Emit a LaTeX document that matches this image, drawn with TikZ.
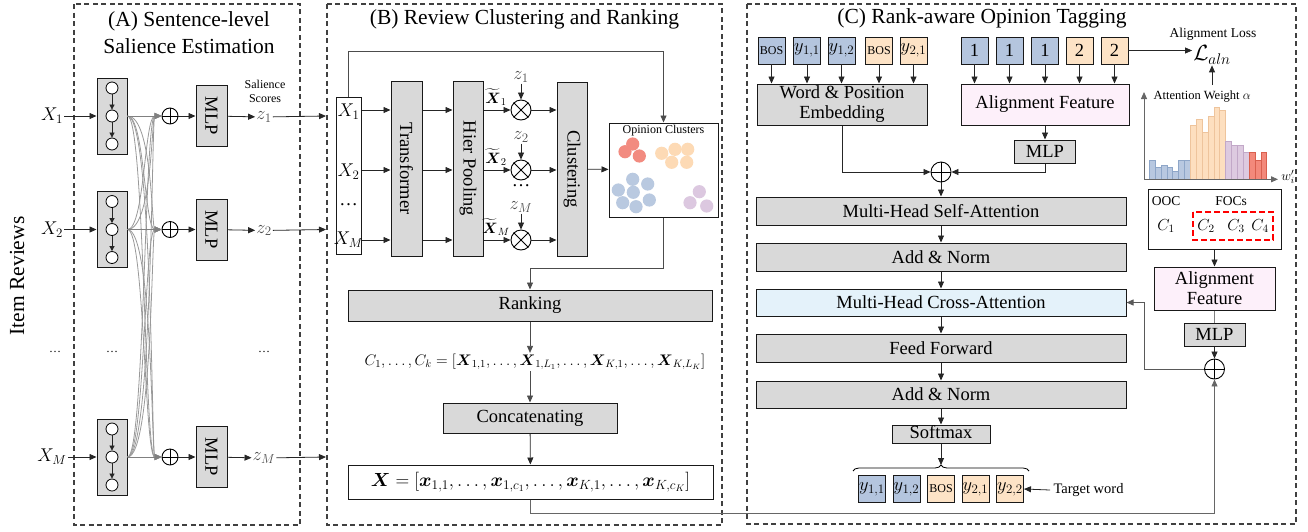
\documentclass[tikz,border=0pt]{standalone}
\usepackage{fix-cm}
\usepackage{amsmath}
\usepackage{fontspec}
\setmainfont{Liberation Serif}
\usetikzlibrary{arrows.meta,decorations.pathreplacing,calc}
\definecolor{boxgray}{HTML}{D9D9D9}
\definecolor{pinkf}{HTML}{FDF0FA}
\definecolor{bluef}{HTML}{E4F2FA}
\definecolor{tblue}{HTML}{B4C5DE}
\definecolor{torange}{HTML}{FDE3C6}
\definecolor{clred}{HTML}{F28B80}
\definecolor{clorange}{HTML}{FDDAB5}
\definecolor{clblue}{HTML}{B9C9E0}
\definecolor{clpurple}{HTML}{DCC8E0}
\definecolor{barbF}{HTML}{B8C8E0}\definecolor{barbE}{HTML}{8EA6C8}
\definecolor{baroF}{HTML}{FDDFBF}\definecolor{baroE}{HTML}{EEC49C}
\definecolor{barpF}{HTML}{DDCAE0}\definecolor{barpE}{HTML}{C2A8C8}
\definecolor{barrF}{HTML}{F3897B}\definecolor{barrE}{HTML}{D9604F}
\newcommand\fsT{\fontsize{21.5}{27}\selectfont}
\newcommand\fsB{\fontsize{18.5}{21}\selectfont}
\newcommand\fsS{\fontsize{12}{14}\selectfont}
\newcommand\fsM{\fontsize{13.5}{16}\selectfont}
\newcommand\fsF{\fontsize{15.3}{18}\selectfont}
\newcommand\fsX{\fontsize{19}{22}\selectfont}
\begin{document}
\begin{tikzpicture}[x=1pt,y=-1pt,font=\fsB,
  box/.style={draw=black!90, line width=1pt, fill=boxgray, inner sep=0pt, align=center},
  wbox/.style={draw=black!90, line width=1pt, fill=white, inner sep=0pt, align=center},
  arr/.style={draw=black!85, line width=0.8pt, -{Triangle[length=7pt,width=6pt]}},
  sarr/.style={draw=black!85, line width=0.7pt, -{Triangle[length=5pt,width=5pt]}},
  garr/.style={draw=black!50, line width=0.8pt, -{Triangle[length=7pt,width=6pt]}},
  gline/.style={draw=black!50, line width=0.8pt},
  panel/.style={draw=black!75, line width=1.1pt, dash pattern=on 5pt off 3.5pt},
  circ/.style={circle, draw=black, line width=0.8pt, fill=white, minimum size=12pt, inner sep=0pt},
  opA/.style={circle, draw=black, line width=0.9pt, fill=white, minimum size=16pt, inner sep=0pt},
  opB/.style={circle, draw=black, line width=0.9pt, fill=white, minimum size=20pt, inner sep=0pt},
  tokb/.style={draw=black!90, line width=0.9pt, fill=tblue, minimum width=27pt, minimum height=27pt, inner sep=0pt},
  toko/.style={draw=black!90, line width=0.9pt, fill=torange, minimum width=27pt, minimum height=27pt, inner sep=0pt},
  lbl/.style={inner sep=1pt}
]
\useasboundingbox (0,0) rectangle (1308,531);

% ---------------- panels ----------------
\draw[panel] (74,4) rectangle (300,525);
\draw[panel] (327,4) rectangle (722,525);
\draw[panel] (747,4) rectangle (1296,524);

\node[font=\fsT, align=center] (tA) at (189,33) {(A) Sentence-level\\Salience Estimation};
\node[font=\fsT] (tB) at (524.5,19) {(B) Review Clustering and Ranking};
\node[font=\fsT] (tC) at (982,18) {(C) Rank-aware Opinion Tagging};
\node[font=\fsT, rotate=90] (ir) at (17,276) {Item Reviews};

% ---------------- Panel A ----------------
\node[font=\fsS, align=center] (sal) at (265,91) {Salience\\Scores};
\foreach \rr/\yy in {1/116,2/229.5,M/457}{
  \node[lbl] (xa\rr) at (52,\yy) {$X_\rr$};
  \node[box, minimum width=30pt, minimum height=76pt] (l\rr) at (112,\yy) {};
  \node[circ] (l\rr a) at (112,\yy-28) {};
  \node[circ] (l\rr b) at (112,\yy) {};
  \node[circ] (l\rr c) at (112,\yy+28) {};
  \draw[sarr] (l\rr a) -- (l\rr b);
  \draw[sarr] (l\rr b) -- (l\rr c);
  \draw[arr] (xa\rr) -- (l\rr);
  \node[opA] (p\rr) at (170,\yy) {};
  \draw[line width=0.9pt] (p\rr.north) -- (p\rr.south) (p\rr.west) -- (p\rr.east);
  \node[box, minimum width=31pt, minimum height=61pt] (m\rr) at (211.5,\yy) {\rotatebox{-90}{MLP}};
  \draw[arr] (p\rr) -- (m\rr);
  \node[lbl, text=black!70] (z\rr) at (264,\yy+1) {$z_\rr$};
  \draw[arr] (m\rr) -- (z\rr);
  \coordinate (e\rr) at (326,\yy);
  \draw[arr] (z\rr) -- (e\rr);
}
\foreach \aa/\bb in {1/2,1/M,2/1,2/M,M/1,M/2}{
  \draw[garr, draw=black!40] (l\aa.east) .. controls +(17,0) and +(-17,0) .. (p\bb.west);
  \draw[garr, draw=black!40] (l\aa.east) .. controls +(25,0) and +(-10,0) .. (p\bb.west);
}
\foreach \rr in {1,2,M}{ \draw[garr] (l\rr) -- (p\rr); }
\node[font=\fsS] (dA1) at (55,352) {\ldots};
\node[font=\fsS] (dA2) at (112,352) {\ldots};
\node[font=\fsS] (dA3) at (264,352) {\ldots};

% ---------------- Panel B ----------------
\node[wbox, minimum width=25pt, minimum height=157pt] (xs) at (348.5,175.5) {};
\node[lbl] (xs1) at (348.5,112) {$X_1$};
\node[lbl] (xs2) at (348.5,172) {$X_2$};
\node[lbl] (xsd) at (348.5,205) {\ldots};
\node[lbl] (xsm) at (348.5,240) {$X_M$};
\node[box, minimum width=31pt, minimum height=175pt] (tr) at (406.5,168.5) {\rotatebox{-90}{Transformer}};
\node[box, minimum width=30pt, minimum height=175pt] (hp) at (468,168.5) {\rotatebox{-90}{Hier Pooling}};
\node[box, minimum width=30pt, minimum height=174pt] (cl) at (572,169) {\rotatebox{-90}{Clustering}};
\foreach \rr/\yy in {1/110,2/170,M/240}{
  \coordinate (rb\rr) at (0,\yy);
  \draw[arr] (xs.east |- rb\rr) -- (tr.west |- rb\rr);
  \draw[arr] (tr.east |- rb\rr) -- (hp.west |- rb\rr);
  \node[opB] (o\rr) at (521,\yy) {};
  \draw[line width=0.9pt] (o\rr.45) -- (o\rr.225) (o\rr.135) -- (o\rr.315);
  \draw[arr] (hp.east |- rb\rr) -- (o\rr.west);
  \draw[arr] (o\rr.east) -- (cl.west |- rb\rr);
  \node[inner sep=0pt, font=\fontsize{15}{17}\selectfont] (xt\rr) at (496,\yy-13) {$\widetilde{\boldsymbol{X}}_\rr$};
  \node[lbl, text=black!70] (zb\rr) at (521,\yy-33) {$z_\rr$};
  \draw[arr] (zb\rr) -- (o\rr);
}
\node[lbl] (dB) at (521,186) {\ldots};
\node[wbox, minimum width=109pt, minimum height=94pt] (opc) at (663.5,170) {};
\node[font=\fsS] (opt) at (663.5,131) {Opinion Clusters};
\foreach \px/\py in {632.7/144,625/151.7,639.3/156}{\fill[clred] (\px,\py) circle[radius=6.6pt];}
\foreach \px/\py in {675/149.3,687.7/149.3,661.7/153.3,671.7/162.3,686.7/162.3}{\fill[clorange] (\px,\py) circle[radius=6.6pt];}
\foreach \px/\py in {632.7/179.3,647.7/184,618.3/190,633.3/192.3,622.7/202.7,636/206.7,649.3/200}{\fill[clblue] (\px,\py) circle[radius=6.6pt];}
\foreach \px/\py in {699.3/191.7,690/202.7,706.7/206}{\fill[clpurple] (\px,\py) circle[radius=6.6pt];}
\draw[arr] (cl) -- (opc);
\draw[arr, draw=black!70] (xs.north) -- ++(0,-45) -| (opc.north);

\node[box, minimum width=364pt, minimum height=31pt] (rank) at (530,305.5) {Ranking};
\draw[arr, draw=black!70] (opc.south) -- ++(0,51) -| (rank.north);
\node[lbl, font=\fsF] (ck) at (535,362) {$C_1,\ldots,C_k=[\boldsymbol{X}_{1,1},\ldots,\boldsymbol{X}_{1,L_1},\ldots,\boldsymbol{X}_{K,1},\ldots,\boldsymbol{X}_{K,L_K}]$};
\node[box, minimum width=174pt, minimum height=30pt] (cat) at (530,418) {Concatenating};
\node[wbox, minimum width=365pt, minimum height=34pt, font=\fsX] (xb) at (530.5,482) {$\boldsymbol{X}=[\boldsymbol{x}_{1,1},\ldots,\boldsymbol{x}_{1,c_1},\ldots,\boldsymbol{x}_{K,1},\ldots,\boldsymbol{x}_{K,c_K}]$};
\draw[arr, draw=black!70] (rank) -- (rank.south |- ck.north);
\draw[arr, draw=black!70] (rank.south |- ck.south) -- (cat);
\draw[arr] (cat) -- (xb);

% ---------------- Panel C ----------------
\node[tokb, font=\fsS] (t1) at (771.5,50.5) {BOS};
\node[tokb] (t2) at (807,50.5) {$y_{1,1}$};
\node[tokb] (t3) at (841.5,50.5) {$y_{1,2}$};
\node[toko, font=\fsS] (t4) at (879,50.5) {BOS};
\node[toko] (t5) at (913.5,50.5) {$y_{2,1}$};
\node[box, minimum width=170pt, minimum height=41pt, font=\fontsize{18.5}{20}\selectfont] (emb) at (842,104.5) {Word \& Position\\Embedding};
\foreach \k in {1,...,5}{ \draw[arr] (t\k) -- (t\k |- emb.north); }

\node[tokb] (r1) at (974.5,50.5) {1};
\node[tokb] (r2) at (1009.5,50.5) {1};
\node[tokb] (r3) at (1045,50.5) {1};
\node[toko] (r4) at (1079.5,50.5) {2};
\node[toko] (r5) at (1114.5,50.5) {2};
\node[box, fill=pinkf, minimum width=168pt, minimum height=41pt] (af1) at (1045,104.5) {Alignment Feature};
\foreach \k in {1,...,5}{ \draw[arr] (r\k) -- (r\k |- af1.north); }

\node[font=\fsM] (alt) at (1213,34) {Alignment Loss};
\node[lbl, font=\fontsize{22}{24}\selectfont] (laln) at (1212,55) {$\mathcal{L}_{aln}$};
\draw[arr] (r5.east) -- (laln.west |- r5.east);

\node[box, minimum width=61pt, minimum height=23pt] (mlp1) at (1045,151.5) {MLP};
\draw[arr] (af1) -- (mlp1);
\node[opB] (pc) at (941,172) {};
\draw[line width=0.9pt] (pc.north) -- (pc.south) (pc.west) -- (pc.east);
\draw[arr] (emb.south) |- (pc.west);
\draw[arr] (mlp1.south) |- (pc.east);

\node[box, minimum width=370pt, minimum height=28pt] (msa) at (941,211) {Multi-Head Self-Attention};
\node[box, minimum width=370pt, minimum height=28pt] (an1) at (941,257) {Add \& Norm};
\node[box, fill=bluef, minimum width=370pt, minimum height=27pt] (mca) at (941,302.5) {Multi-Head Cross-Attention};
\node[box, minimum width=370pt, minimum height=28pt] (ff) at (941,348) {Feed Forward};
\node[box, minimum width=370pt, minimum height=27pt] (an2) at (941,394.5) {Add \& Norm};
\node[box, minimum width=98pt, minimum height=18pt, text height=12.5pt, text depth=4pt] (sm) at (941,434) {Softmax};
\draw[arr] (pc) -- (msa);
\draw[arr] (msa) -- (an1);
\draw[arr] (an1) -- (mca);
\draw[arr] (mca) -- (ff);
\draw[arr] (ff) -- (an2);
\draw[arr] (an2) -- (sm);
\coordinate (brl) at (853,471);
\coordinate (brr) at (1029,471);
\coordinate (brt) at (941,465);
\draw[line width=0.8pt, decorate, decoration={brace, amplitude=6pt}] (brl) -- (brr);
\draw[arr] (sm) -- (brt);

\node[tokb] (b1) at (872,489) {$y_{1,1}$};
\node[tokb] (b2) at (906.5,489) {$y_{1,2}$};
\node[toko, font=\fsS] (b3) at (941,489) {BOS};
\node[toko] (b4) at (975.5,489) {$y_{2,1}$};
\node[toko] (b5) at (1010,489) {$y_{2,2}$};
\node[anchor=west, font=\fontsize{14.5}{16}\selectfont] (tw) at (1050,490) {Target word};
\draw[arr] (tw.west) -- (b5.east);

% attention chart
\coordinate (ax0) at (1144,179.3);
\coordinate (axy) at (1144,92);
\coordinate (axx) at (1278,179.3);
\foreach \i/\t/\f/\e in {0/160/barbF/barbE,1/167.3/barbF/barbE,2/165.3/barbF/barbE,3/167.7/barbF/barbE,4/171/barbF/barbE,5/160/barbF/barbE,6/160/barbF/barbE,
  7/125.7/baroF/baroE,8/119.3/baroF/baroE,9/132.3/baroF/baroE,10/116/baroF/baroE,11/107.3/baroF/baroE,12/110/baroF/baroE,
  13/141.3/barpF/barpE,14/145/barpF/barpE,15/145/barpF/barpE,16/152.3/barpF/barpE,
  17/152.3/barrF/barrE,18/160/barrF/barrE,19/152.3/barrF/barrE}{
  \draw[draw=\e, fill=\f, line width=0.6pt] ({1149.3+\i*5.87},179.3) rectangle ({1149.3+(\i+1)*5.87},\t);
}
\draw[arr, draw=black!60] (ax0) -- (axy);
\draw[arr, draw=black!60] (ax0) -- (axx);
\node[font=\fontsize{12.5}{14}\selectfont, anchor=west] (awl) at (1150,97) {Attention Weight $\alpha$};
\node[lbl, font=\fsM] (wl) at (1288,177) {$w_i'$};
\coordinate (chtop) at (1212,85);
\draw[arr] (chtop) -- (chtop |- laln.south);

% clusters box
\node[wbox, minimum width=133pt, minimum height=60pt] (oocb) at (1214.5,219) {};
\node[font=\fsM] (ooc) at (1166,201) {OOC};
\node[font=\fsM] (focs) at (1231,201) {FOCs};
\node[lbl, font=\fontsize{16}{18}\selectfont] (c1) at (1166,226) {$C_1$};
\node[lbl, font=\fontsize{16}{18}\selectfont] (c2) at (1206,226) {$C_2$};
\node[lbl, font=\fontsize{16}{18}\selectfont] (c3) at (1236,226) {$C_3$};
\node[lbl, font=\fontsize{16}{18}\selectfont] (c4) at (1260,226) {$C_4$};
\draw[draw=red, line width=1.5pt, dash pattern=on 6pt off 3pt] (1193,212) rectangle (1273,240);
\node[box, fill=pinkf, minimum width=121pt, minimum height=43pt, font=\fontsize{18.5}{20}\selectfont] (af2) at (1214.5,288.5) {Alignment\\Feature};
\draw[arr] (oocb) -- (af2);
\node[box, minimum width=61pt, minimum height=23pt] (mlp2) at (1214.5,334.5) {MLP};
\draw[gline] (af2) -- (mlp2);
\node[opB] (pd) at (1214.5,369) {};
\draw[line width=0.9pt] (pd.north) -- (pd.south) (pd.west) -- (pd.east);
\draw[arr] (mlp2) -- (pd);
\draw[arr, draw=black!65] (pd.west) -- ++(-59.5,0) |- (mca.east);
\draw[arr, draw=black!60] (xb.south) -- ++(0,14) -| (pd.south);
\end{tikzpicture}
\end{document}
